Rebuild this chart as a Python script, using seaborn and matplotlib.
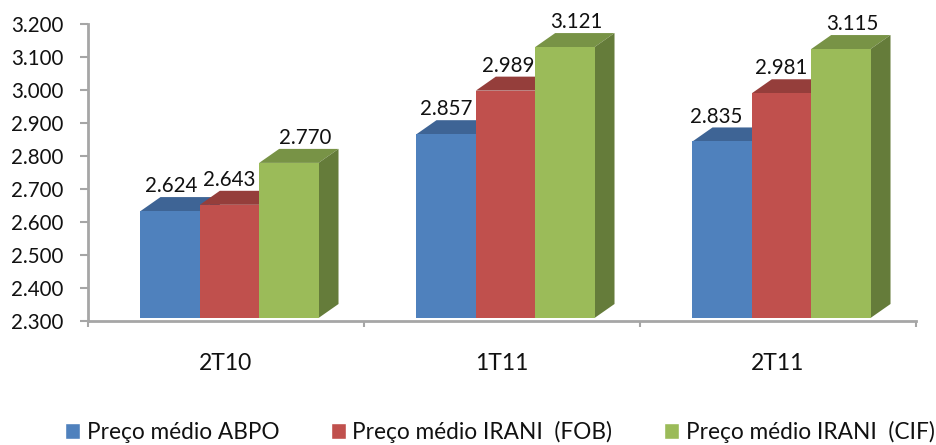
import matplotlib
matplotlib.use("Agg")
import matplotlib.pyplot as plt
from matplotlib.patches import Polygon, Patch
from matplotlib.transforms import ScaledTranslation
import pandas as pd
import seaborn as sns

periods = ["2T10", "1T11", "2T11"]
series_names = ["Preço médio ABPO", "Preço médio IRANI  (FOB)", "Preço médio IRANI  (CIF)"]
abpo = [2624, 2857, 2835]
irani_fob = [2643, 2989, 2981]
irani_cif = [2770, 3121, 3115]
y_ticks = [2300, 2400, 2500, 2600, 2700, 2800, 2900, 3000, 3100, 3200]

front_colors = ["#4F81BD", "#C0504D", "#9BBB59"]
top_colors = ["#3E6495", "#953E3B", "#789346"]
side_colors = ["#345480", "#7F3432", "#657C3A"]
# Horizontal nudge of each value label in px, per series then per period.
label_nudge = [[1, 0, -6], [0, 3, 0], [16, 12, 12]]
AXIS_GREY = "#A6A6A6"
TEXT = "#111111"
FONT = "Lato"

W, H = 937, 445
DX, DY = 20, 14  # depth of the extruded bars, px

long = pd.DataFrame({
    "period": periods * 3,
    "series": [s for s in series_names for _ in periods],
    "price": abpo + irani_fob + irani_cif,
})

sns.set_theme(style="white")
plt.rcParams["font.family"] = [FONT, "DejaVu Sans"]

fig = plt.figure(figsize=(W / 100, H / 100), dpi=100)

def px_axes(x0, x1, y_top, y_bottom, **kw):
    return fig.add_axes([x0 / W, 1 - y_bottom / H, (x1 - x0) / W, (y_bottom - y_top) / H], **kw)

# Axis frame with ticks; the bars sit on a plane just in front of it.
ax = px_axes(88, 916, 24, 321)
bars_ax = px_axes(91.5, 919.5, 21, 318)
bars_ax.patch.set_alpha(0)

sns.barplot(data=long, x="period", y="price", hue="series", order=periods,
            hue_order=series_names, palette=front_colors, saturation=1,
            width=0.645, dodge=True, gap=0, legend=False, linewidth=0, ax=bars_ax)
bars_ax.set_ylim(y_ticks[0], y_ticks[-1])
bars_ax.axis("off")

# Extrude each bar: top and side faces, placed behind its neighbour to the right.
to_px = bars_ax.transData
for s_idx, container in enumerate(bars_ax.containers):
    for rect in container:
        x0, x1 = rect.get_x(), rect.get_x() + rect.get_width()
        top = rect.get_height()
        (px0, pt), (px1, pb) = to_px.transform([(x0, top), (x1, y_ticks[0])])
        top_face = [(px0, pt), (px1, pt), (px1 + DX, pt + DY), (px0 + DX, pt + DY)]
        side_face = [(px1, pb), (px1 + DX, pb + DY), (px1 + DX, pt + DY), (px1, pt)]
        for pts, col in ((top_face, top_colors[s_idx]), (side_face, side_colors[s_idx])):
            fig.add_artist(Polygon(pts, closed=True, transform=None, facecolor=col,
                                   edgecolor="none", zorder=1))
        rect.set_zorder(3)

bars_ax.set_zorder(3)
bars_ax.set_clip_on(False)

# Value labels, in thousands with a point separator.
for s_idx, container in enumerate(bars_ax.containers):
    for p_idx, rect in enumerate(container):
        v = rect.get_height()
        cx = rect.get_x() + rect.get_width() / 2
        bars_ax.annotate(f"{v / 1000:.3f}", (cx, v),
                         xytext=(label_nudge[s_idx][p_idx] * 0.72, 17.9),
                         textcoords="offset points", ha="center", va="center",
                         fontsize=14.8, color=TEXT, zorder=6)

ax.set_xlim(-0.5, 2.5)
ax.set_ylim(y_ticks[0], y_ticks[-1])
ax.set_yticks(y_ticks)
ax.set_yticklabels([f"{t / 1000:.3f}" for t in y_ticks], fontsize=14.8, color=TEXT)
ax.set_xticks([-0.5, 0.5, 1.5, 2.5])
ax.set_xticklabels([])
ax.set_xticks([0, 1, 2], minor=True)
ax.set_xticklabels(periods, minor=True, fontsize=16.5, color=TEXT)
shift = ScaledTranslation(-2 / 100, 0, fig.dpi_scale_trans)
for lab in ax.get_xticklabels(minor=True):
    lab.set_transform(lab.get_transform() + shift)
ax.tick_params(axis="x", which="major", length=4.5, width=1.5, color=AXIS_GREY, bottom=True)
ax.tick_params(axis="x", which="minor", length=0, pad=23)
ax.tick_params(axis="y", length=5.5, width=1.5, color=AXIS_GREY, left=True, pad=12)
for side in ("top", "right"):
    ax.spines[side].set_visible(False)
for side in ("left", "bottom"):
    ax.spines[side].set_color(AXIS_GREY)
    ax.spines[side].set_linewidth(2)
ax.grid(False)

handles = [Patch(facecolor=c, label=n) for c, n in zip(front_colors, series_names)]
fig.legend(handles=handles, loc="lower left", bbox_to_anchor=(65 / W, 2 / H), ncol=3, frameon=False,
           fontsize=16.3, handlelength=0.66, handleheight=0.75, handletextpad=0.3,
           columnspacing=2.27, labelcolor=TEXT, borderpad=0, borderaxespad=0)

fig.savefig("out.png", dpi=100)
